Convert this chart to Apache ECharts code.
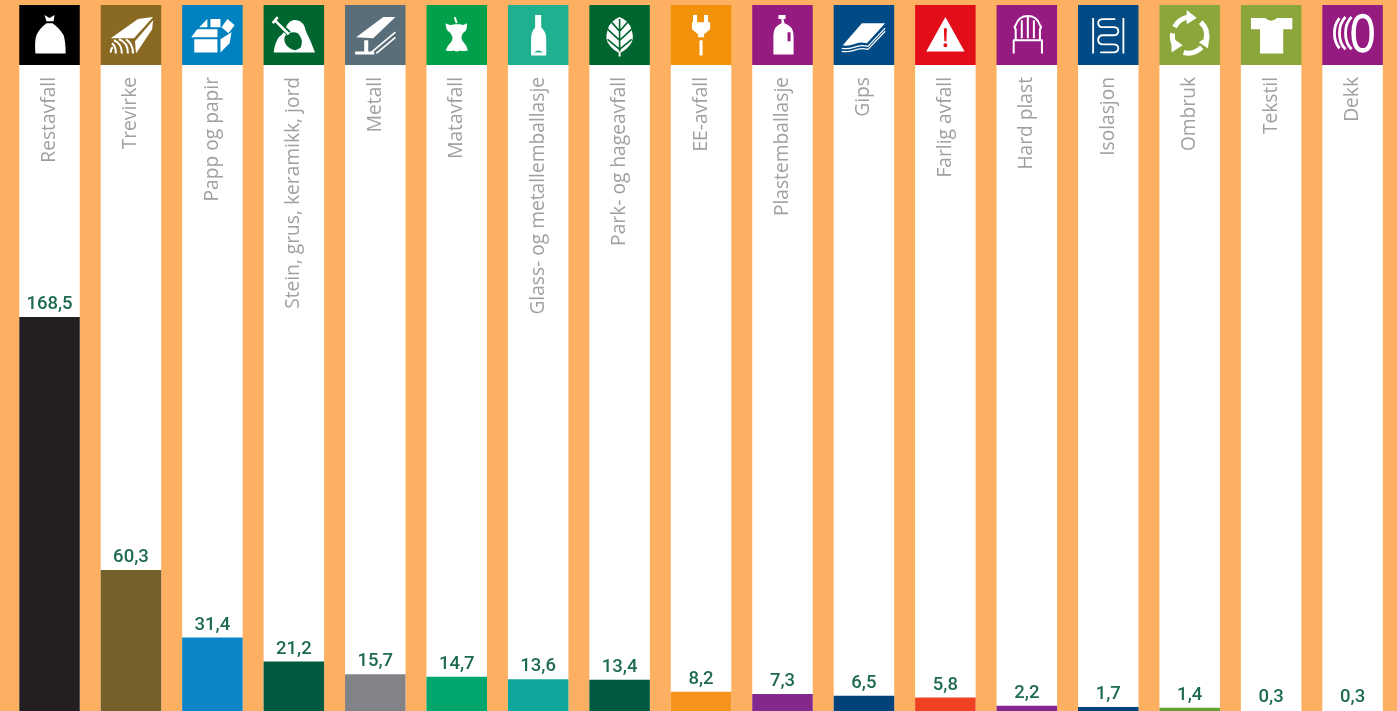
<!DOCTYPE html>
<html><head><meta charset="utf-8">
<style>html,body{margin:0;padding:0;background:#fdb062}#c{width:1397px;height:711px}</style>
<script src="https://cdn.jsdelivr.net/npm/echarts@6/dist/echarts.min.js"></script>
</head><body><div id="c"></div>
<script>
const categories=['Restavfall','Trevirke','Papp og papir','Stein, grus, keramikk, jord','Metall','Matavfall','Glass- og metallemballasje','Park- og hageavfall','EE-avfall','Plastemballasje','Gips','Farlig avfall','Hard plast','Isolasjon','Ombruk','Tekstil','Dekk'];
const values=[168.5,60.3,31.4,21.2,15.7,14.7,13.6,13.4,8.2,7.3,6.5,5.8,2.2,1.7,1.4,0.3,0.3];
const barColors=['#231f20','#75602b','#0c85c6','#005a3f','#828386','#00a66c','#0fa79d','#005a3f','#f7941d','#84288d','#00427a','#f04123','#84288d','#00427a','#65a033','#ffffff','#ffffff'];
const headColors=['#000000','#8a6a22','#0082c0','#01652f','#5a6e7a','#00a04a','#1fb08f','#01652f','#f2920a','#951b81','#004b85','#e30d1a','#951b81','#004b85','#8ba63a','#8ba63a','#951b81'];
// Icon artwork in a 60x60 cell: f = white fill, s = white stroke, c = cut in head colour, cs = stroke in head colour
const icons=[
 [{f:'M16 48Q15 36 17 30Q20 23 27 18L33 18Q40 23 44 30Q46 37 46 48ZM25 10L30 13L35 10L34 16L27 16Z'}],
 [{f:'M10 33L37 14L52 12L33 33ZM34 36L52 15L51 24L35 48Z'},{s:'M10 47Q10 43 12 42M15 48Q15 40 11 38M21 48Q21 38 13 35M27 48Q27 37 18 34M32 48Q32 38 25 34',w:2}],
 [{f:'M9 32L15 24L35 24L35 32ZM17 22L25 14L25 22ZM28 14L38 14L38 22L28 22ZM12 34L35 34L35 47L12 47ZM38 34L49 27L47 38L38 47ZM39 22L45 14L52 20L46 28Z'}],
 [{f:'M10 47Q11 38 15 32Q21 28 23 20Q27 14 33 15Q40 16 42 26Q47 36 51 47Z'},{cs:'M9 14L25 28',w:5.5},{c:'M21 31Q27 25 34 28Q40 34 37 42Q32 47 26 43Q19 38 21 31Z'},{s:'M9 18L14 12M11 15L25 29',w:2.5}],
 [{f:'M11 32L38 12L50 12L28 33ZM19 35L23 35L23 46L29 46L29 49L10 49L10 46L19 46Z'},{s:'M26 47L50 27M31 48L50 32',w:1.6}],
 [{f:'M19 18Q23 21 28 19L34 19Q36 21 40 18Q41 25 37 27Q33 31 36 36Q40 40 41 45Q36 46 33 45Q30 47 27 45Q24 46 19 45Q21 40 25 36Q27 31 23 27Q19 25 19 18Z'},{s:'M28 12L30 18',w:1.8}],
 [{f:'M27 10L33 10L33 22Q38 27 38 33L38 50L23 50L23 33Q23 27 27 22Z'},{c:'M26 47Q30 43 35 47Z'}],
 [{f:'M30 12Q40 16 42 25Q45 34 40 40Q35 46 31 47L31 51L29 51L29 47Q25 46 20 40Q15 34 18 25Q20 16 30 12Z'},{cs:'M30 14L30 46M30 26L22 17M30 26L38 17M30 35L18 24M30 35L42 24M30 44L18 34M30 44L42 34',w:1.6}],
 [{f:'M22 10L26 10L26 17L33 17L33 10L37 10L37 17L39 17L39 24L33 29L33 32L27 32L27 29L21 24L21 17L22 17ZM28.5 35L31.5 35L31.5 50L28.5 50Z'}],
 [{f:'M26 10L33 10L33 14L31 14L32 18Q41 21 41 30L41 49L21 49L21 30Q21 21 29 18L29 14L26 14Z'},{c:'M35 27L38 27L38 36L35 36Z'}],
 [{f:'M9 40L28 18L51 18L33 38Q26 36 20 39Q14 41 9 40Z'},{s:'M8 43Q14 44 20 42Q27 39 34 41L51 23M8 46Q14 47 20 45Q27 42 34 44L51 26',w:1.2}],
 [{f:'M30 12L49 46L11 46Z'},{c:'M28.5 23L31.5 23L31 36L29 36ZM28 40A2 2 0 1 0 32 40A2 2 0 1 0 28 40Z'}],
 [{s:'M17 48L17 35L45 35L45 48M19 34L19 24Q17 22 19 20Q22 11 31 11Q40 11 43 20Q45 22 43 24L43 34M25 33L25 15M31 33L31 12M37 33L37 15',w:2}],
 [{s:'M15 13L15 48M45 13L45 48',w:1.8},{s:'M37 14L25 14Q20 14 20 18Q20 22 25 22L35 22Q40 22 40 26Q40 30 35 30L25 30Q20 30 20 35Q20 39 25 39L35 39Q40 39 40 43Q40 47 35 47L22 47',w:1.8}],
 [{s:'M15 22Q19 14 28 12M41 17Q49 25 46 34M42 42Q33 50 24 47M15 40Q12 34 13 28',w:5},{f:'M27 5L37 13L27 19ZM50 30L48 43L39 37ZM12 32L23 40L12 47Z'}],
 [{f:'M10 13L24 13Q30 18 36 13L51 13L51 24L42 24L42 48L19 48L19 24L10 24Z'}],
 [{s:'M40 11C47 11 49 20 49 28C49 36 47 45 40 45C33 45 31 36 31 28C31 20 33 11 40 11Z',w:4.5},{s:'M29 12C24 17 23 23 23 28C23 33 24 39 29 44M23 12C18 17 17 23 17 28C17 33 18 39 23 44M17 13C13 18 12 23 12 28C12 33 13 38 17 43',w:2.8}]
];
const txt='#a0a0a0', valTxt='#1d6a50';
const chart=echarts.init(document.getElementById('c'),null,{renderer:'canvas'});
const boxFix='M0 0L0 0ZM60 60L60 60Z';
chart.setOption({
 animation:false,
 backgroundColor:'#fdb062',
 grid:[{left:8.8,right:3.7,top:65,bottom:0},{left:8.8,right:3.7,top:5,height:60}],
 xAxis:[
  {type:'category',gridIndex:0,z:10,data:categories,position:'top',axisLine:{show:false},axisTick:{show:false},
   axisLabel:{inside:true,rotate:90,interval:0,margin:12,padding:[12,0,0,0],color:txt,fontFamily:'Open Sans',fontWeight:400,fontSize:19.2}},
  {type:'category',gridIndex:1,data:categories,show:false}
 ],
 yAxis:[
  {type:'value',gridIndex:0,min:0,max:276.3,show:false},
  {type:'value',gridIndex:1,min:0,max:1,show:false}
 ],
 series:[
  {type:'bar',xAxisIndex:0,yAxisIndex:0,barWidth:60.5,showBackground:true,backgroundStyle:{color:'#ffffff',opacity:1},
   data:values.map((v,i)=>({value:v,itemStyle:{color:barColors[i]}})),
   label:{show:true,position:'top',distance:3,color:valTxt,fontFamily:'Roboto',fontWeight:500,fontSize:18.5,
    formatter:p=>String(p.value.toFixed(1)).replace('.',',')}},
  {type:'bar',xAxisIndex:1,yAxisIndex:1,barWidth:60.5,data:headColors.map(c=>({value:1,itemStyle:{color:c}}))},
  {type:'custom',xAxisIndex:1,yAxisIndex:1,data:categories.map((c,i)=>[i,1]),z:5,silent:true,
   renderItem:(params,api)=>{
    const i=api.value(0), p=api.coord([i,1]), col=headColors[i];
    const sc=60.5/60;
    return {type:'group',x:p[0]-30.25,y:p[1],scaleX:sc,scaleY:sc,children:icons[i].map(o=>{
      const d=o.f||o.c||o.s||o.cs;
      const style=o.f?{fill:'#fff',stroke:null}:o.c?{fill:col,stroke:null}:
        {fill:'none',stroke:o.s?'#fff':col,lineWidth:o.w,lineCap:'butt',lineJoin:'round'};
      return {type:'path',shape:{pathData:boxFix+d,x:0,y:0,width:60,height:60,layout:'cover'},style};
    })};
   }}
 ]
});
</script></body></html>
